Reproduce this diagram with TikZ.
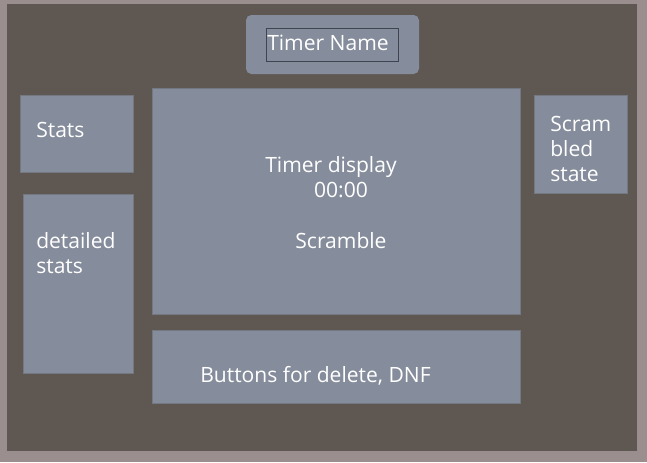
\documentclass[tikz,border=0pt]{standalone}
\usepackage{fontspec}
\setmainfont{Open Sans}
\usepackage{tikz}
\usetikzlibrary{positioning}
\definecolor{frameback}{HTML}{9B8E8E}
\definecolor{screenback}{HTML}{5F5752}
\definecolor{panelfill}{HTML}{858C9B}
\definecolor{panelline}{HTML}{737883}
\definecolor{nameline}{HTML}{3E4450}
\tikzset{
    panel/.style={rectangle, draw=panelline, fill=panelfill, line width=0.6pt},
    label text/.style={text=white, font=\fontsize{15.8}{18.75}\selectfont, inner sep=0pt, align=left}
}
\begin{document}
\begin{tikzpicture}[x=0.75pt,y=-0.75pt]
	\fill[frameback] (0,0) rectangle (647,462);
	\useasboundingbox (0,0) rectangle (647,462);
	\fill[screenback] (7,4) rectangle (637,451);
	% title
	\fill[panelfill, rounded corners=4pt] (246,15) rectangle (419,74);
	\draw[nameline, line width=0.6pt] (266,28) rectangle (398,61);
	\node[label text, anchor=base west] (timername) at (267,50) {Timer Name};
	% left side
	\draw[panel] (20,95) rectangle (133,172);
	\node[label text, anchor=base west] (stats) at (36,137) {Stats};
	\draw[panel] (23,194) rectangle (133,373);
	\node[label text, anchor=base west] (detailed) at (36,273) {detailed\\stats};
	% centre
	\draw[panel] (152,88) rectangle (520,314);
	\node[label text, anchor=base] (display) at (331,172) {Timer display};
	\node[label text, anchor=base] (time) at (341,197) {00:00};
	\node[label text, anchor=base] (scramble) at (341,248) {Scramble};
	\draw[panel] (152,330) rectangle (520,403);
	\node[label text, anchor=base west] (buttons) at (200,382) {Buttons for delete, DNF};
	% right side
	\draw[panel] (534,95) rectangle (627,193);
	\node[label text, anchor=base west] (scrambled) at (550,181) {Scram\\bled\\state};
\end{tikzpicture}
\end{document}
